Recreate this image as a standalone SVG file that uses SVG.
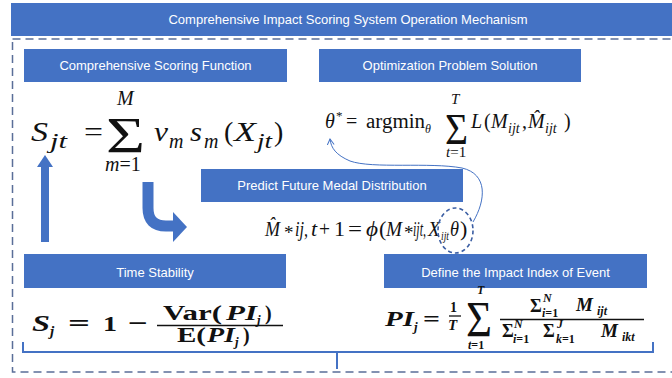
<svg xmlns="http://www.w3.org/2000/svg" width="672" height="378" viewBox="0 0 672 378">
<defs>
<style>
.box{fill:#4472C4;}
.lbl{font-family:"Liberation Sans",Arial,sans-serif;font-size:13px;fill:#ffffff;text-anchor:middle;}
.m{font-family:"Liberation Serif","Times New Roman",serif;fill:#111;}
.i{font-style:italic;}
.n{font-style:normal;}
.b{font-weight:bold;}
.fl{stroke:#111;stroke-width:1.3;}
</style>
<marker id="ah" markerWidth="8" markerHeight="8" refX="6" refY="4" orient="auto" markerUnits="userSpaceOnUse">
<path d="M0,0.5 L6,4 L0,7.5" fill="none" stroke="#4472C4" stroke-width="1"/>
</marker>
</defs>
<rect x="0" y="0" width="672" height="378" fill="#ffffff"/>

<g id="frame">
<rect x="12.5" y="39" width="680" height="333" fill="none" stroke="#5a6e98" stroke-width="1.5" stroke-dasharray="8,5"/>
</g>

<g id="title">
<rect class="box" x="11" y="3" width="672" height="33"/>
<text class="lbl" x="348" y="24">Comprehensive Impact Scoring System Operation Mechanism</text>
</g>

<g id="scoring-function">
<rect class="box" x="24" y="49" width="263" height="33"/>
<text class="lbl" x="155.5" y="70">Comprehensive Scoring Function</text>
<text class="m" font-size="28">
<tspan class="i" x="31" y="141" textLength="17" lengthAdjust="spacingAndGlyphs">S</tspan><tspan class="i" x="50" y="148" font-size="21" textLength="17" lengthAdjust="spacingAndGlyphs">jt</tspan>
<tspan x="84" y="141" textLength="19" lengthAdjust="spacingAndGlyphs">=</tspan>
<tspan x="106" y="152" font-size="51" textLength="39" lengthAdjust="spacingAndGlyphs">Σ</tspan>
<tspan class="i" x="117" y="105" font-size="20">M</tspan>
<tspan class="i" x="105" y="171" font-size="20">m</tspan><tspan font-size="20">=1</tspan>
<tspan class="i" x="154" y="141" textLength="14" lengthAdjust="spacingAndGlyphs">v</tspan><tspan class="i" x="169" y="148" font-size="20">m</tspan>
<tspan class="i" x="190" y="141" textLength="12" lengthAdjust="spacingAndGlyphs">s</tspan><tspan class="i" x="204" y="148" font-size="20">m</tspan>
<tspan x="224" y="141">(</tspan><tspan class="i" x="234" y="141" textLength="22" lengthAdjust="spacingAndGlyphs">X</tspan><tspan class="i" x="257" y="148" font-size="20" textLength="15" lengthAdjust="spacingAndGlyphs">jt</tspan><tspan x="274" y="141">)</tspan>
</text>
</g>

<g id="optimization">
<rect class="box" x="319" y="49" width="262" height="33"/>
<text class="lbl" x="450" y="70">Optimization Problem Solution</text>
<text class="m" font-size="20">
<tspan class="i" x="325" y="128">θ</tspan><tspan x="336" y="120" font-size="13">*</tspan>
<tspan x="346" y="128">=</tspan>
<tspan x="366" y="128" textLength="59" lengthAdjust="spacingAndGlyphs">argmin</tspan><tspan class="i" x="425" y="133" font-size="12">θ</tspan>
<tspan x="445" y="144" font-size="44" textLength="23" lengthAdjust="spacingAndGlyphs">Σ</tspan>
<tspan class="i" x="451" y="104" font-size="15">T</tspan>
<tspan class="i" x="446" y="157" font-size="15">t</tspan><tspan font-size="15">=1</tspan>
<tspan class="i" x="471" y="128">L</tspan><tspan x="484" y="128">(</tspan><tspan class="i" x="491" y="128">M</tspan><tspan class="i" x="508" y="133" font-size="14">ijt</tspan><tspan x="522" y="128">,</tspan><tspan class="i" x="528" y="128">M̂</tspan><tspan class="i" x="545" y="133" font-size="14">ijt</tspan><tspan x="564" y="128">)</tspan>
</text>
</g>

<g id="predict">
<rect class="box" x="201" y="169" width="262" height="33"/>
<text class="lbl" x="332" y="190">Predict Future Medal Distribution</text>
<text class="m i" font-size="22">
<tspan x="265" y="236" textLength="15" lengthAdjust="spacingAndGlyphs">M̂</tspan>
<tspan class="n" x="284" y="239" font-size="19">*</tspan>
<tspan x="295" y="236" textLength="13" lengthAdjust="spacingAndGlyphs">ij,</tspan>
<tspan x="311" y="236">t</tspan>
<tspan class="n" x="319" y="236" textLength="11" lengthAdjust="spacingAndGlyphs">+</tspan>
<tspan class="n" x="334" y="236">1</tspan>
<tspan class="n" x="348" y="236" textLength="14" lengthAdjust="spacingAndGlyphs">=</tspan>
<tspan x="366" y="236" textLength="12" lengthAdjust="spacingAndGlyphs">ϕ</tspan>
<tspan class="n" x="379" y="236">(</tspan>
<tspan x="386" y="236" textLength="16" lengthAdjust="spacingAndGlyphs">M</tspan>
<tspan class="n" x="404" y="239" font-size="19">*</tspan>
<tspan x="413" y="236" textLength="13" lengthAdjust="spacingAndGlyphs">ijt,</tspan>
<tspan x="428" y="236" textLength="12" lengthAdjust="spacingAndGlyphs">X</tspan><tspan x="441" y="240" font-size="12" textLength="8" lengthAdjust="spacingAndGlyphs">ijt</tspan>
<tspan x="450" y="236" textLength="9" lengthAdjust="spacingAndGlyphs">θ</tspan>
<tspan class="n" x="460" y="236">)</tspan>
</text>
<ellipse cx="455.5" cy="230.5" rx="17.5" ry="22.5" fill="none" stroke="#3b5ea3" stroke-width="1.6" stroke-dasharray="4,3"/>
</g>

<g id="time-stability">
<rect class="box" x="24" y="254" width="262" height="34"/>
<text class="lbl" x="155" y="276.5">Time Stability</text>
<text class="m b" font-size="24">
<tspan class="i" x="32" y="331" textLength="18" lengthAdjust="spacingAndGlyphs">S</tspan><tspan class="i" x="50" y="336" font-size="15">j</tspan>
<tspan x="68" y="331" textLength="22" lengthAdjust="spacingAndGlyphs">=</tspan>
<tspan x="103" y="331" font-size="22" textLength="14" lengthAdjust="spacingAndGlyphs">1</tspan>
<tspan x="128" y="331" textLength="20" lengthAdjust="spacingAndGlyphs">−</tspan>
<tspan x="163" y="320" font-size="20" textLength="59" lengthAdjust="spacingAndGlyphs">Var(</tspan><tspan class="i" x="226" y="320" font-size="20" textLength="31" lengthAdjust="spacingAndGlyphs">PI</tspan><tspan class="i" x="257" y="324" font-size="13">j</tspan><tspan x="265" y="320" font-size="20">)</tspan>
<tspan x="177" y="342" font-size="20" textLength="29" lengthAdjust="spacingAndGlyphs">E(</tspan><tspan class="i" x="207" y="342" font-size="20" textLength="28" lengthAdjust="spacingAndGlyphs">PI</tspan><tspan class="i" x="235" y="346" font-size="13">j</tspan><tspan x="243" y="342" font-size="20">)</tspan>
</text>
<line class="fl" x1="157" y1="325.5" x2="283" y2="325.5"/>
</g>

<g id="impact-index">
<rect class="box" x="384" y="254" width="263" height="34"/>
<text class="lbl" x="515.5" y="276.5">Define the Impact Index of Event</text>
<text class="m b" font-size="20">
<tspan class="i" x="385" y="326" textLength="29" lengthAdjust="spacingAndGlyphs">PI</tspan><tspan class="i" x="414" y="331" font-size="13">j</tspan>
<tspan x="423" y="326" textLength="17" lengthAdjust="spacingAndGlyphs">=</tspan>
<tspan x="450" y="312" font-size="14">1</tspan>
<tspan class="i" x="448" y="330" font-size="15">T</tspan>
<tspan x="466" y="336" font-size="50" textLength="26" lengthAdjust="spacingAndGlyphs" font-weight="normal">Σ</tspan>
<tspan class="i" x="477" y="294" font-size="12">T</tspan>
<tspan class="i" x="468" y="349" font-size="12">t</tspan><tspan font-size="12">=1</tspan>
<tspan x="530" y="312" font-size="18">Σ</tspan><tspan class="i" x="543" y="302" font-size="12">N</tspan><tspan class="i" x="542" y="317" font-size="12">i</tspan><tspan font-size="12">=1</tspan>
<tspan class="i" x="576" y="311" font-size="19">M</tspan><tspan class="i" x="597" y="315" font-size="12">ijt</tspan>
<tspan x="502" y="337" font-size="18">Σ</tspan><tspan class="i" x="514" y="328" font-size="12">N</tspan><tspan class="i" x="513" y="343" font-size="12">i</tspan><tspan font-size="12">=1</tspan>
<tspan x="543" y="337" font-size="18">Σ</tspan><tspan class="i" x="557" y="328" font-size="12">J</tspan><tspan class="i" x="556" y="343" font-size="12">k</tspan><tspan font-size="12">=1</tspan>
<tspan class="i" x="601" y="337" font-size="19">M</tspan><tspan class="i" x="622" y="341" font-size="12">ikt</tspan>
</text>
<line class="fl" x1="449" y1="316" x2="461" y2="316"/>
<line class="fl" x1="500" y1="319.5" x2="644" y2="319.5"/>
</g>

<g id="connectors">
<path d="M45,242 V166" stroke="#4472C4" stroke-width="8" fill="none"/>
<polygon points="37,167 53,167 45,155" fill="#4472C4"/>
<path d="M148,182 V208 Q148,226 166,226 H175" stroke="#4472C4" stroke-width="11" fill="none"/>
<polygon points="173,212 187,227 173,242" fill="#4472C4"/>
<path d="M473,222 C486,200 488,174 462,168 C430,162 372,169 350,161 C336,155 331,148 330,139" fill="none" stroke="#4472C4" stroke-width="1" marker-end="url(#ah)"/>
<path d="M23,342 V352 H653 V342 M337,352 V369" fill="none" stroke="#4472C4" stroke-width="2"/>
</g>
</svg>
